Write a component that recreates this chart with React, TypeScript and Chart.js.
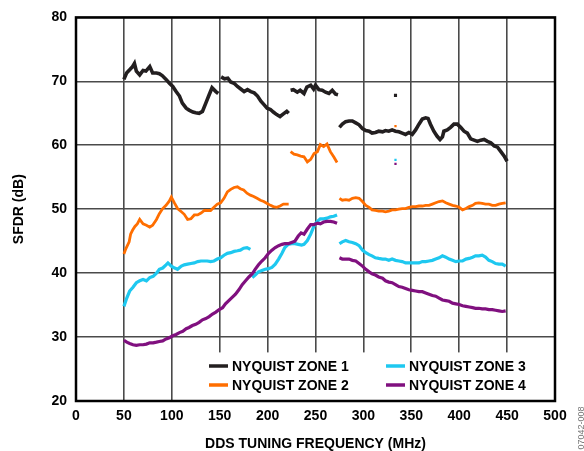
import React, { useEffect, useRef } from "react";
import { Chart, registerables } from "chart.js";

Chart.register(...registerables);

// ---- axis ticks ----
const xTicks = [0, 50, 100, 150, 200, 250, 300, 350, 400, 450, 500];
const yTicks = [20, 30, 40, 50, 60, 70, 80];

const seriesLabels = ["NYQUIST ZONE 1", "NYQUIST ZONE 2", "NYQUIST ZONE 3", "NYQUIST ZONE 4"];

// ---- data: [frequency MHz, SFDR dB]; null marks a break in the trace ----
const zone1Points: [number, number | null][] = [
  [50, 70.3], [52.8, 71.3], [56, 71.8], [59, 72.3], [61, 72.8], [63, 71.6], [66.5, 71.0], [70, 71.7],
  [73, 71.6], [77, 72.3], [80, 71.3], [84, 71.3], [87, 71.2], [90, 70.9], [94, 70.3], [97.5, 69.7],
  [101, 69.2], [104.5, 68.4], [108, 67.7], [111, 66.6], [115, 65.8], [118, 65.5], [122, 65.2], [125, 65.1],
  [128.5, 65.0], [132, 65.3], [135.5, 66.6], [139, 67.9], [142, 69.0], [146, 68.4], [148.5, 68.1],
  [150, null],
  [151.5, 70.7], [155, 70.4], [158.5, 70.5], [161.5, 69.9], [165, 69.7], [168.5, 69.2], [172, 68.8],
  [175.5, 68.4], [179, 68.7], [182.5, 68.4], [186, 68.2], [189.5, 67.7], [193, 66.9], [196, 66.4],
  [199.5, 65.8], [203, 65.6], [206, 65.2], [209.5, 64.8], [213, 64.5], [216.5, 64.9], [220, 65.3], [222, 65.0],
  [223, null],
  [224, 68.6], [227, 68.7], [231, 68.3], [234, 68.6], [238, 68.1], [241, 69.1], [245, 69.4], [248, 68.8],
  [250, 69.4], [253.5, 68.7], [257, 68.6], [260.5, 68.3], [264, 68.1], [267.5, 68.6], [271, 68.0], [273.5, 67.9],
  [274, null],
  [275, 62.8], [278, 63.3], [281.5, 63.7], [285, 63.8], [288.5, 63.8], [292, 63.5], [295.5, 63.2], [299, 62.6],
  [302.5, 62.3], [306, 62.2], [309, 61.9], [312.5, 62.0], [316, 62.2], [320, 62.1], [323, 62.3], [326.5, 62.2],
  [330, 62.4], [333.5, 62.2], [337, 62.1], [340.5, 61.9], [344, 61.7], [347.5, 62.0], [351, 61.7], [354.5, 62.4],
  [358, 63.3], [361.5, 64.1], [365, 64.3], [367.5, 64.2], [370, 63.3], [373.5, 62.2], [377, 61.4], [380, 60.9],
  [382.5, 61.3], [384, 62.2], [387.5, 62.4], [391, 62.8], [394.5, 63.3], [398, 63.3], [401.5, 62.8], [405, 62.2],
  [408.5, 61.9], [412, 61.0], [415.5, 60.8], [419, 60.6], [422.5, 60.8], [426, 60.9], [429.5, 60.6], [433, 60.4],
  [436.5, 59.9], [440, 59.7], [443.5, 59.0], [447, 58.3], [450, 57.5],
];

const zone2Points: [number, number | null][] = [
  [50, 43.0], [52, 43.8], [55.5, 44.9], [57, 46.1], [59, 46.7], [61.5, 47.3], [64, 47.7], [66.5, 48.4],
  [70, 47.7], [73.5, 47.5], [77, 47.2], [80, 47.5], [84, 48.4], [87, 49.3], [90.5, 50.1], [94, 50.6],
  [97.5, 51.3], [99.5, 51.9], [103, 50.9], [106, 50.1], [110, 49.6], [113, 49.2], [116.5, 48.4], [120, 48.5],
  [123.5, 49.1], [127, 49.1], [130.5, 49.4], [134, 49.8], [137, 49.8], [140.5, 49.8], [144, 50.3], [147.5, 50.8],
  [151, 51.0], [154.5, 51.7], [158, 52.7], [161.5, 53.1], [165, 53.4], [168.5, 53.5], [171.5, 53.2], [175, 53.0],
  [178.5, 52.5], [182, 52.2], [185.5, 52.0], [189, 51.7], [192.5, 51.4], [196, 51.2], [199.5, 50.9], [203, 50.6],
  [206, 50.4], [209.5, 50.3], [213, 50.5], [216.5, 50.8], [222, 50.8],
  [223, null],
  [224, 59.0], [227.5, 58.6], [231, 58.5], [234.5, 58.3], [238, 58.2], [241.5, 57.4], [245, 57.8], [248.5, 58.7],
  [252, 59.0], [255, 60.1], [258.5, 59.8], [262, 60.2], [265.5, 59.0], [269, 58.2], [272.5, 57.3],
  [274, null],
  [275, 51.7], [278, 51.4], [281.5, 51.5], [285, 51.4], [288.5, 51.7], [292, 51.8], [295.5, 51.7], [299, 51.2],
  [302.5, 50.6], [306, 50.3], [309, 49.9], [312.5, 49.8], [316, 49.7], [320, 49.7], [323, 49.6], [326.5, 49.7],
  [330, 49.9], [333.5, 49.9], [337, 50.0], [340.5, 50.1], [344, 50.1], [347.5, 50.3], [351, 50.4], [354.5, 50.4],
  [358, 50.5], [361.5, 50.5], [365, 50.6], [368.5, 50.6], [372, 50.8], [375.5, 51.0], [379, 51.2], [382.5, 51.3],
  [386, 51.0], [389.5, 50.8], [393, 50.6], [396.5, 50.5], [400, 50.3], [403.5, 49.9], [407, 50.1], [410.5, 50.4],
  [414, 50.6], [417, 50.9], [420.5, 51.0], [424, 50.9], [427.5, 50.8], [431, 50.8], [434.5, 50.6], [438, 50.6],
  [441.5, 50.8], [445, 50.9], [448.5, 51.0],
];

const zone3Points: [number, number | null][] = [
  [50, 34.8], [53, 36.1], [56, 37.2], [59.5, 37.8], [63, 38.5], [66.5, 38.8], [70, 39.0], [73.5, 38.8],
  [77, 39.3], [80.5, 39.5], [84, 40.0], [87, 40.6], [90.5, 40.8], [94, 41.3], [96, 41.6], [99.5, 41.1],
  [103, 40.8], [106, 40.6], [110, 41.1], [113, 41.3], [116.5, 41.4], [120, 41.5], [123.5, 41.6], [127, 41.8],
  [130.5, 41.9], [134, 41.9], [137, 41.9], [140.5, 41.8], [144, 41.9], [147.5, 42.2], [151, 42.4], [154.5, 42.8],
  [158, 43.1], [161.5, 43.2], [165, 43.4], [168.5, 43.5], [171.5, 43.6], [175, 43.9], [178.5, 44.0], [182, 43.7],
  [183, null],
  [184, 39.3], [187, 39.7], [190.5, 40.2], [194, 40.4], [197.5, 40.6], [201, 40.7], [204.5, 40.9], [208, 41.4],
  [211.5, 42.2], [215, 43.1], [218, 44.0], [221.5, 44.5], [225, 44.6], [228.5, 44.6], [232, 44.5], [235.5, 44.4],
  [238, 44.5], [241.5, 45.1], [245, 46.1], [248.5, 47.4], [252, 48.1], [255, 48.5], [258.5, 48.5], [262, 48.6],
  [265.5, 48.8], [269, 48.9], [272.5, 49.1],
  [274, null],
  [275, 44.6], [278, 44.9], [281.5, 45.1], [285, 44.9], [288.5, 44.8], [292, 44.6], [295.5, 44.3], [299, 43.6],
  [302.5, 43.2], [306, 42.9], [309, 42.7], [312.5, 42.4], [316, 42.3], [320, 42.2], [323, 42.2], [326.5, 42.0],
  [330, 42.2], [333.5, 42.0], [337, 41.9], [340.5, 41.8], [344, 41.6], [347.5, 41.6], [351, 41.6], [354.5, 41.6],
  [358, 41.6], [361.5, 41.8], [365, 41.8], [368.5, 41.9], [372, 42.0], [375.5, 42.2], [379, 42.4], [382.5, 42.7],
  [386, 42.5], [389.5, 42.2], [393, 42.0], [396.5, 41.8], [400, 41.9], [403.5, 41.9], [407, 42.2], [410.5, 42.3],
  [414, 42.5], [417, 42.7], [420.5, 42.7], [424, 42.8], [427.5, 42.5], [431, 42.0], [434.5, 41.8], [438, 41.5],
  [441.5, 41.4], [445, 41.4], [448.5, 41.1],
];

const zone4Points: [number, number | null][] = [
  [50, 29.5], [53, 29.2], [56, 29.0], [59.5, 28.8], [63, 28.7], [66.5, 28.8], [70, 28.8], [73.5, 28.9],
  [77, 29.1], [80.5, 29.1], [84, 29.2], [87, 29.3], [90.5, 29.4], [94, 29.7], [97.5, 29.9], [101, 30.2],
  [104.5, 30.4], [108, 30.7], [111.5, 30.9], [115, 31.3], [118, 31.5], [121.5, 31.8], [125, 32.0], [128.5, 32.3],
  [132, 32.7], [135.5, 32.9], [139, 33.2], [142.5, 33.6], [146, 33.9], [149.5, 34.3], [153, 34.6], [156, 35.2],
  [159.5, 35.7], [163, 36.2], [166.5, 36.7], [170, 37.4], [173.5, 38.2], [177, 38.8], [180.5, 39.4], [184, 39.9],
  [187, 40.6], [190.5, 41.3], [194, 41.9], [197.5, 42.4], [201, 43.1], [204.5, 43.6], [208, 44.0], [211.5, 44.3],
  [215, 44.5], [218, 44.6], [221.5, 44.6], [225, 44.8], [228.5, 45.0], [232, 45.8], [235, 46.3], [238, 46.1],
  [241.5, 46.9], [245, 47.6], [248.5, 47.6], [252, 47.8], [255, 47.7], [258.5, 48.0], [262, 48.1], [265.5, 48.1],
  [269, 48.0], [272.5, 47.8],
  [274, null],
  [275, 42.4], [278, 42.2], [281.5, 42.2], [285, 42.2], [288.5, 42.0], [292, 41.9], [295.5, 41.5], [299, 41.1],
  [302.5, 40.6], [306, 40.2], [309, 39.9], [312.5, 39.7], [316, 39.4], [320, 39.2], [323, 38.8], [326.5, 38.6],
  [330, 38.5], [333.5, 38.2], [337, 37.9], [340.5, 37.8], [344, 37.6], [347.5, 37.4], [351, 37.3], [354.5, 37.2],
  [358, 37.1], [361.5, 37.1], [365, 36.9], [368.5, 36.7], [372, 36.5], [375.5, 36.4], [379, 36.1], [382.5, 35.8],
  [386, 35.7], [389.5, 35.6], [393, 35.3], [396.5, 35.2], [400, 35.1], [403.5, 34.9], [407, 34.8], [410.5, 34.7],
  [414, 34.6], [417, 34.5], [420.5, 34.5], [424, 34.4], [427.5, 34.4], [431, 34.3], [434.5, 34.3], [438, 34.2],
  [441.5, 34.1], [445, 34.0], [448.5, 34.1],
];

// isolated spur readings at one frequency (zone 1..4)
const spurFreq = 333.5;
const spurValues = [67.8, 63.0, 57.7, 57.1];

const colors = ["#231f20", "#ff6e00", "#1ec8f0", "#80107f"];
const lineWidths = [3.6, 2.8, 3.2, 3.2];

const FONT = "'Liberation Sans', Arial, sans-serif";

export default function App() {
  const canvasRef = useRef<HTMLCanvasElement | null>(null);

  useEffect(() => {
    const canvas = canvasRef.current;
    if (!canvas) return;
    const allPoints = [zone1Points, zone2Points, zone3Points, zone4Points];

    const datasets: any[] = allPoints.map((pts, i) => ({
      label: seriesLabels[i],
      data: pts.map(([x, y]) => ({ x, y })),
      borderColor: colors[i],
      backgroundColor: colors[i],
      borderWidth: lineWidths[i],
      pointRadius: 0,
      spanGaps: false,
      tension: 0,
      order: 4 - i,
    }));
    spurValues.forEach((v, i) => {
      datasets.push({
        label: "spur" + i,
        data: [{ x: spurFreq, y: v }],
        showLine: false,
        pointStyle: "rect",
        pointRadius: i === 0 ? 2.2 : 1.6,
        borderWidth: 0,
        backgroundColor: colors[i],
        borderColor: colors[i],
      });
    });

    const decor = {
      id: "decor",
      beforeDatasetsDraw(chart: any) {
        const { ctx, chartArea: a, scales } = chart;
        const boxLeft = scales.x.getPixelForValue(135);
        const boxTop = scales.y.getPixelForValue(27.6);
        ctx.save();
        ctx.fillStyle = "#ffffff";
        ctx.fillRect(boxLeft, boxTop, a.right - boxLeft, a.bottom - boxTop);
        const cols = [a.left + 133, a.left + 310];
        const rows = [a.bottom - 35, a.bottom - 16];
        ctx.font = `bold 14px ${FONT}`;
        ctx.textBaseline = "middle";
        ctx.textAlign = "left";
        for (let i = 0; i < 4; i++) {
          const lx = cols[i < 2 ? 0 : 1];
          const ly = rows[i % 2];
          ctx.strokeStyle = colors[i];
          ctx.lineWidth = 3.5;
          ctx.beginPath();
          ctx.moveTo(lx, ly);
          ctx.lineTo(lx + 19, ly);
          ctx.stroke();
          ctx.fillStyle = "#000";
          ctx.fillText(seriesLabels[i], lx + 23, ly + 1);
        }
        ctx.restore();
      },
      afterDraw(chart: any) {
        const { ctx, chartArea: a } = chart;
        ctx.save();
        ctx.strokeStyle = "#000";
        ctx.lineWidth = 2.5;
        ctx.strokeRect(a.left, a.top, a.right - a.left, a.bottom - a.top);
        ctx.translate(582, 428);
        ctx.rotate(-Math.PI / 2);
        ctx.font = `9px ${FONT}`;
        ctx.fillStyle = "#777";
        ctx.textAlign = "center";
        ctx.textBaseline = "middle";
        ctx.fillText("07042-008", 0, 0);
        ctx.restore();
      },
    };

    const chart = new Chart(canvas, {
      type: "line",
      data: { datasets },
      options: {
        animation: false,
        responsive: false,
        maintainAspectRatio: false,
        layout: { padding: { left: 0, top: 17, right: 29, bottom: 0 } },
        plugins: { legend: { display: false }, tooltip: { enabled: false } },
        scales: {
          x: {
            type: "linear",
            min: xTicks[0],
            max: xTicks[xTicks.length - 1],
            afterBuildTicks: (s: any) => {
              s.ticks = xTicks.map((v) => ({ value: v }));
            },
            afterFit: (s: any) => {
              s.height = 50;
            },
            grid: { color: "#4a4a4a", lineWidth: 1.6, drawTicks: false },
            border: { display: false },
            ticks: {
              padding: 7,
              color: "#000",
              font: { family: FONT, size: 14, weight: "bold" },
              maxRotation: 0,
            },
            title: {
              display: true,
              text: "DDS TUNING FREQUENCY (MHz)",
              color: "#000",
              font: { family: FONT, size: 14, weight: "bold", lineHeight: 1 },
              padding: { top: 0, bottom: 0 },
            },
          },
          y: {
            type: "linear",
            min: yTicks[0],
            max: yTicks[yTicks.length - 1],
            afterBuildTicks: (s: any) => {
              s.ticks = yTicks.map((v) => ({ value: v }));
            },
            afterFit: (s: any) => {
              s.width = 76;
            },
            grid: { color: "#4a4a4a", lineWidth: 1.6, drawTicks: false },
            border: { display: false },
            ticks: {
              padding: 9,
              color: "#000",
              font: { family: FONT, size: 14, weight: "bold" },
            },
            title: {
              display: true,
              text: "SFDR (dB)",
              color: "#000",
              font: { family: FONT, size: 14, weight: "bold", lineHeight: 1 },
              padding: { top: 12, bottom: 0 },
            },
          },
        },
      },
      plugins: [decor],
    } as any);

    return () => chart.destroy();
  }, []);

  return (
    <div style={{ position: "fixed", left: 0, top: 0, width: 584, height: 451, background: "#fff" }}>
      <canvas ref={canvasRef} width={584} height={451} style={{ display: "block", width: 584, height: 451 }} />
    </div>
  );
}
